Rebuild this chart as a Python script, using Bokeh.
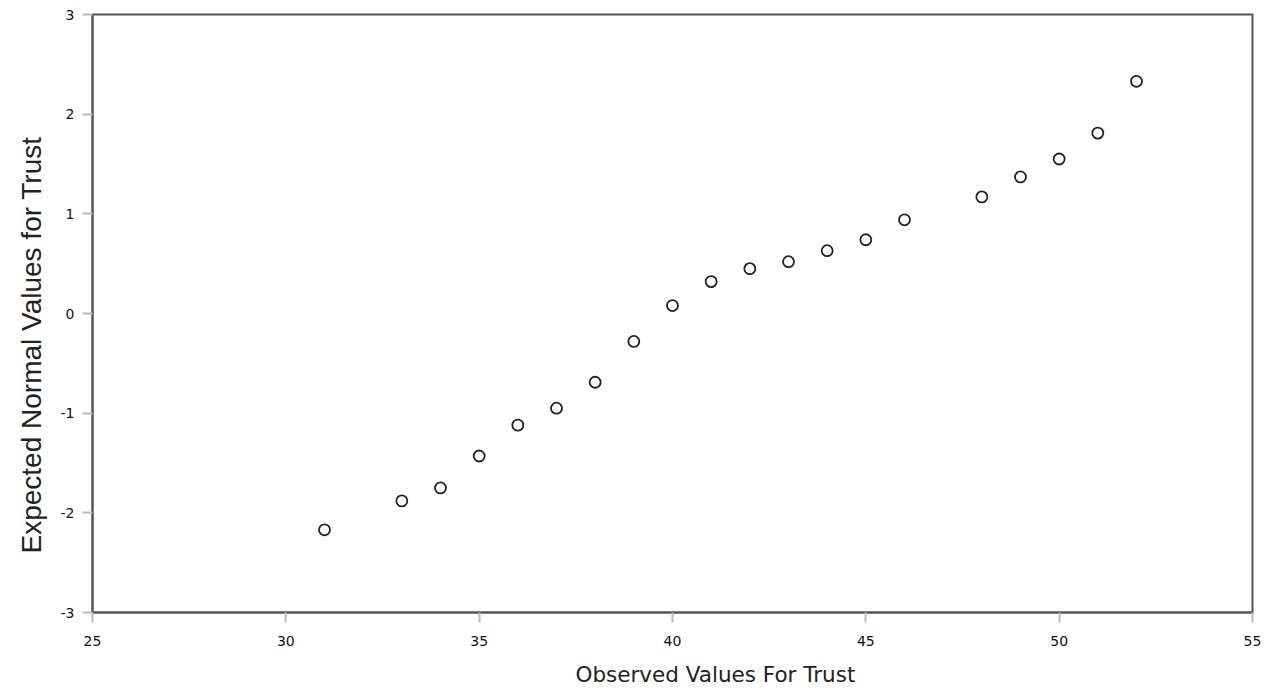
from bokeh.plotting import figure
from bokeh.models import Range1d, FixedTicker, Title
from bokeh.embed import file_html
from bokeh.resources import INLINE

observed = [31, 33, 34, 35, 36, 37, 38, 39, 40, 41, 42, 43, 44, 45, 46, 48, 49, 50, 51, 52]
expected = [-2.17, -1.88, -1.75, -1.43, -1.12, -0.95, -0.69, -0.28, 0.08, 0.32,
            0.45, 0.52, 0.63, 0.74, 0.94, 1.17, 1.37, 1.55, 1.81, 2.33]
x_ticks = [25, 30, 35, 40, 45, 50, 55]
y_ticks = [-3, -2, -1, 0, 1, 2, 3]
x_title = "Observed Values For Trust"
y_title = "Expected Normal Values for Trust"

W, H = 1275, 700
p = figure(width=W, height=H, output_backend="svg", toolbar_location=None,
           x_range=Range1d(25, 55), y_range=Range1d(-3, 3),
           min_border_left=92, min_border_right=W - 1252, min_border_top=14,
           min_border_bottom=H - 612)
p.grid.visible = False
p.outline_line_color = "#555555"
p.outline_line_width = 2
p.background_fill_color = "white"
p.border_fill_color = "white"

p.scatter(observed, expected, size=11, marker="circle", fill_color="white",
          line_color="#222222", line_width=1.8)

for ax, ticks in ((p.xaxis[0], x_ticks), (p.yaxis[0], y_ticks)):
    ax.ticker = FixedTicker(ticks=ticks)
    ax.major_label_overrides = {t: str(t) for t in ticks}
    ax.axis_line_color = "#555555"
    ax.axis_line_width = 2
    ax.major_tick_line_color = "#bbbbbb"
    ax.major_tick_line_width = 2
    ax.major_tick_out = 10
    ax.major_tick_in = 0
    ax.minor_tick_line_color = None
    ax.major_label_text_font = "DejaVu Sans"
    ax.major_label_text_font_size = "14px"
    ax.major_label_text_color = "#111111"

p.xaxis.major_label_standoff = 13
p.yaxis.major_label_standoff = 8

xt = Title(text=x_title, align="left", offset=483, text_font="DejaVu Sans",
           text_font_size="21.5px", text_font_style="normal", text_color="#222222",
           standoff=22)
yt = Title(text=y_title, align="left", offset=59, text_font="Liberation Sans",
           text_font_size="28px", text_font_style="normal", text_color="#222222",
           standoff=22)
p.add_layout(xt, "below")
p.add_layout(yt, "left")

open("out.html", "w").write(file_html(p, INLINE))
